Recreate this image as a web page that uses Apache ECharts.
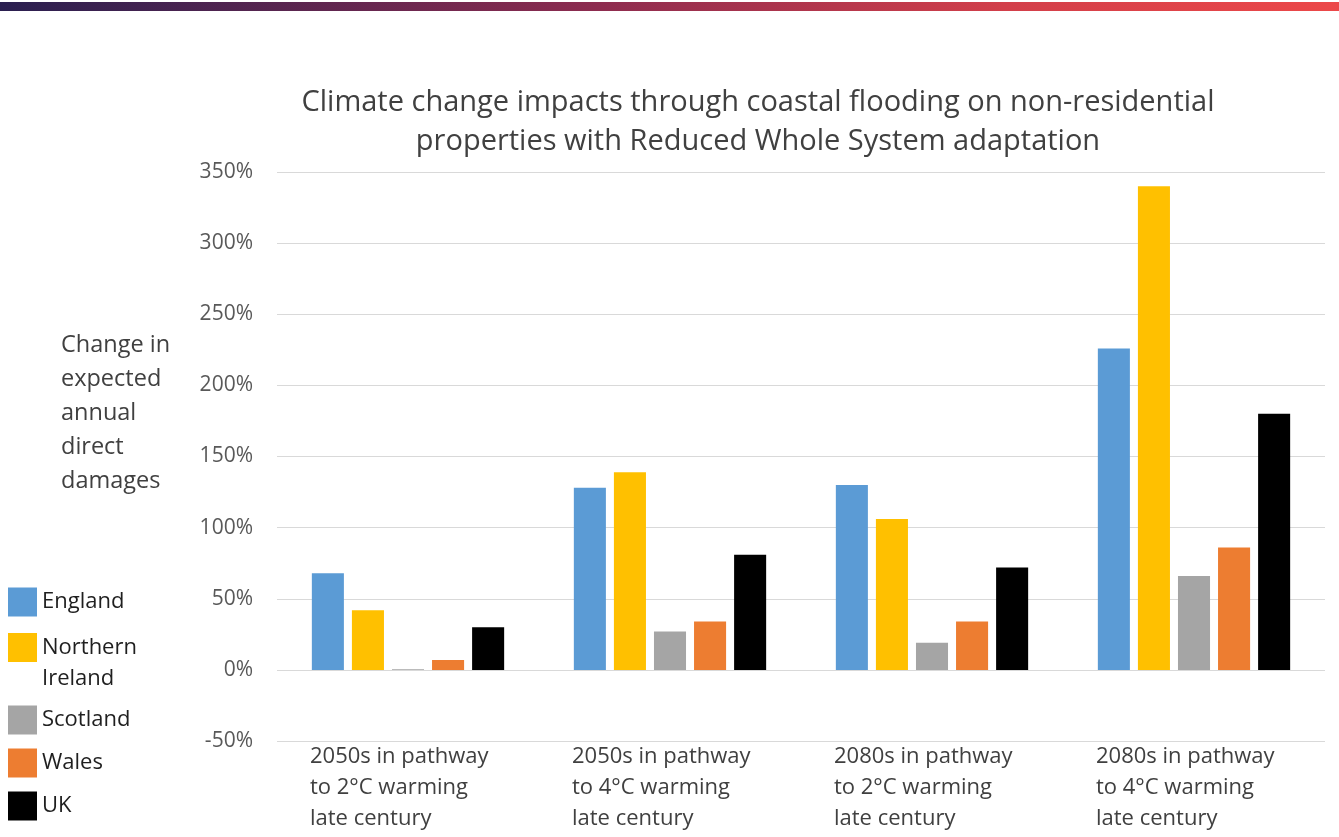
<!DOCTYPE html>
<html>
<head>
<meta charset="utf-8">
<script src="https://cdn.jsdelivr.net/npm/echarts@6/dist/echarts.min.js"></script>
<style>
  html, body { margin: 0; padding: 0; background: #ffffff; }
  #chart { width: 1339px; height: 837px; }
</style>
</head>
<body>
<div id="chart"></div>
<script>
// Scenario categories (x axis)
const categories = [
  '2050s in pathway\nto 2°C warming\nlate century',
  '2050s in pathway\nto 4°C warming\nlate century',
  '2080s in pathway\nto 2°C warming\nlate century',
  '2080s in pathway\nto 4°C warming\nlate century'
];

// Change in expected annual direct damages (%) per nation
const england = [68, 128, 130, 226];
const northernIreland = [42, 139, 106, 340];
const scotland = [0.5, 27, 19, 66];
const wales = [7, 34, 34, 86];
const uk = [30, 81, 72, 180];

// Y axis tick range (%)
const yMin = -50;
const yMax = 350;
const yStep = 50;

const FONT = '"Open Sans", "Noto Sans", sans-serif';

const seriesDefs = [
  { name: 'England', data: england, color: '#5b9bd5' },
  { name: 'Northern\nIreland', data: northernIreland, color: '#ffc000' },
  { name: 'Scotland', data: scotland, color: '#a5a5a5' },
  { name: 'Wales', data: wales, color: '#ed7d31' },
  { name: 'UK', data: uk, color: '#000000' }
];

// One legend block per nation so each sits on its own row at the left.
// The two-line entry gets an empty leading line so that its first line
// stays level with the swatch and the second line hangs below it.
const legendTops = [586.5, 601, 704.5, 747.5, 790.5];
const legends = seriesDefs.map((s, i) => {
  const twoLine = s.name.indexOf('\n') >= 0;
  return {
    data: [s.name],
    orient: 'vertical',
    left: 8,
    top: legendTops[i],
    padding: 0,
    icon: 'rect',
    itemWidth: 29,
    itemHeight: 29,
    itemGap: 0,
    itemTextGap: 6,
    selectedMode: false,
    formatter: twoLine ? (name => ' \n' + name) : (name => name),
    textStyle: {
      fontFamily: FONT,
      fontSize: 22,
      color: '#1f1f1f',
      lineHeight: 31
    }
  };
});

const chart = echarts.init(document.getElementById('chart'), null, { renderer: 'canvas' });

chart.setOption({
  backgroundColor: '#ffffff',
  animation: false,
  title: [
    {
      text: 'Climate change impacts through coastal flooding on non-residential\nproperties with Reduced Whole System adaptation',
      left: 758,
      top: 83,
      padding: 0,
      textAlign: 'center',
      textStyle: {
        fontFamily: FONT,
        fontSize: 29,
        fontWeight: 'normal',
        color: '#404040',
        lineHeight: 39,
        align: 'center'
      }
    },
    {
      text: 'Change in\nexpected\nannual\ndirect\ndamages',
      left: 61,
      top: 328,
      padding: 0,
      textStyle: {
        fontFamily: FONT,
        fontSize: 23.5,
        fontWeight: 'normal',
        color: '#404040',
        lineHeight: 34
      }
    }
  ],
  legend: legends,
  graphic: [
    {
      type: 'rect',
      left: 0,
      top: 2,
      shape: { width: 1339, height: 9 },
      style: {
        fill: new echarts.graphic.LinearGradient(0, 0, 1, 0, [
          { offset: 0, color: '#2a1f50' },
          { offset: 0.45, color: '#8e2c4f' },
          { offset: 0.75, color: '#d23f4a' },
          { offset: 1, color: '#ec4849' }
        ])
      }
    }
  ],
  grid: {
    left: 277,
    right: 14,
    top: 172,
    bottom: 96,
    containLabel: false
  },
  xAxis: {
    type: 'category',
    data: categories,
    axisLine: { show: false, onZero: false },
    axisTick: { show: false },
    axisLabel: {
      interval: 0,
      margin: 0,
      formatter: function (v) {
        return v.split('\n').map(l => '{a|' + l + '}').join('\n');
      },
      rich: {
        a: {
          fontFamily: FONT,
          fontSize: 22,
          color: '#404040',
          lineHeight: 31,
          width: 196,
          align: 'left'
        }
      }
    }
  },
  yAxis: {
    type: 'value',
    min: yMin,
    max: yMax,
    interval: yStep,
    axisLine: { show: false },
    axisTick: { show: false },
    splitLine: { lineStyle: { color: '#d9d9d9', width: 1 } },
    axisLabel: {
      margin: 24,
      fontFamily: FONT,
      fontSize: 21,
      color: '#595959',
      formatter: v => v + '%'
    }
  },
  series: seriesDefs.map(s => ({
    name: s.name,
    type: 'bar',
    data: s.data,
    barGap: '25%',
    barCategoryGap: '26.6%',
    itemStyle: { color: s.color }
  }))
});
</script>
</body>
</html>
